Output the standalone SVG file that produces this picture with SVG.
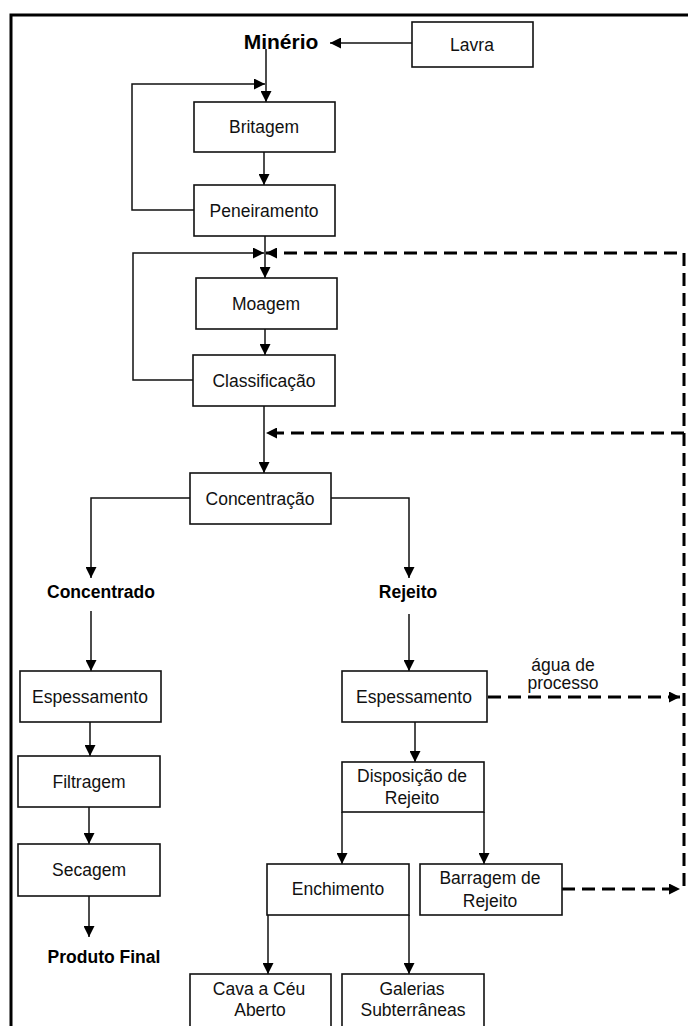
<svg xmlns="http://www.w3.org/2000/svg" width="688" height="1026" viewBox="0 0 688 1026">
<style>
.box{fill:#fff;stroke:#111;stroke-width:1.6}
.t{font-family:"Liberation Sans",Arial,sans-serif;font-size:17.5px;fill:#111;text-anchor:middle}
.b{font-family:"Liberation Sans",Arial,sans-serif;font-size:17.5px;font-weight:bold;fill:#000;text-anchor:middle}
.ln{fill:none;stroke:#111;stroke-width:1.5}
.ds{fill:none;stroke:#000;stroke-width:3;stroke-dasharray:13 7}
</style>
<defs>
<marker id="ah" markerUnits="userSpaceOnUse" markerWidth="11" markerHeight="11" refX="11" refY="5.5" orient="auto">
<path d="M0,0 L11,5.5 L0,11 z" fill="#000"/>
</marker>
</defs>
<rect x="0" y="0" width="688" height="1026" fill="#fff"/>
<g id="frame">
<path d="M11,1030 L11,15 L692,15" fill="none" stroke="#000" stroke-width="3"/>
</g>
<g id="connectors">
<path class="ln" d="M412,43 L330,43" marker-end="url(#ah)"/>
<path class="ln" d="M266,49 L266,102" marker-end="url(#ah)"/>
<path class="ln" d="M194,210 L132,210 L132,84 L265,84" marker-end="url(#ah)"/>
<path class="ln" d="M264,152 L264,185" marker-end="url(#ah)"/>
<path class="ln" d="M265,236 L265,278" marker-end="url(#ah)"/>
<path class="ln" d="M193,380 L133,380 L133,253 L264,253" marker-end="url(#ah)"/>
<path class="ln" d="M265,329 L265,355" marker-end="url(#ah)"/>
<path class="ln" d="M264,406 L264,473" marker-end="url(#ah)"/>
<path class="ln" d="M190,498 L91,498 L91,578" marker-end="url(#ah)"/>
<path class="ln" d="M331,498 L409,498 L409,578" marker-end="url(#ah)"/>
<path class="ln" d="M91,611 L91,671" marker-end="url(#ah)"/>
<path class="ln" d="M409,614 L409,671" marker-end="url(#ah)"/>
<path class="ln" d="M90,722 L90,756" marker-end="url(#ah)"/>
<path class="ln" d="M89,807 L89,844" marker-end="url(#ah)"/>
<path class="ln" d="M89,896 L89,937" marker-end="url(#ah)"/>
<path class="ln" d="M415,722 L415,762" marker-end="url(#ah)"/>
<path class="ln" d="M342,812 L342,864" marker-end="url(#ah)"/>
<path class="ln" d="M484,812 L484,864" marker-end="url(#ah)"/>
<path class="ln" d="M268,915 L268,974" marker-end="url(#ah)"/>
<path class="ln" d="M409,915 L409,974" marker-end="url(#ah)"/>
<path class="ds" d="M684,886 L684,253 L266,253" marker-end="url(#ah)"/>
<path class="ds" d="M684,433 L266,433" marker-end="url(#ah)"/>
<path class="ds" d="M488,697 L680,697" marker-end="url(#ah)"/>
<path class="ds" d="M562,889 L680,889" marker-end="url(#ah)"/>
</g>
<g id="minerio"><text class="b" x="281" y="49" style="font-size:21px">Minério</text></g>
<g id="lavra"><rect class="box" x="412" y="22" width="121" height="45"/><text class="t" x="472" y="51">Lavra</text></g>
<g id="britagem"><rect class="box" x="194" y="102" width="141" height="50"/><text class="t" x="264" y="133">Britagem</text></g>
<g id="peneiramento"><rect class="box" x="194" y="185" width="141" height="51"/><text class="t" x="264" y="217">Peneiramento</text></g>
<g id="moagem"><rect class="box" x="196" y="278" width="141" height="51"/><text class="t" x="266" y="310">Moagem</text></g>
<g id="classificacao"><rect class="box" x="193" y="355" width="142" height="51"/><text class="t" x="264" y="387">Classificação</text></g>
<g id="concentracao"><rect class="box" x="190" y="473" width="141" height="51"/><text class="t" x="260" y="505">Concentração</text></g>
<g id="concentrado"><text class="b" x="101" y="598">Concentrado</text></g>
<g id="rejeito"><text class="b" x="408" y="598">Rejeito</text></g>
<g id="espessamento1"><rect class="box" x="20" y="671" width="141" height="51"/><text class="t" x="90" y="703">Espessamento</text></g>
<g id="filtragem"><rect class="box" x="18" y="756" width="142" height="51"/><text class="t" x="89" y="788">Filtragem</text></g>
<g id="secagem"><rect class="box" x="18" y="844" width="142" height="52"/><text class="t" x="89" y="876">Secagem</text></g>
<g id="produto"><text class="b" x="104" y="963">Produto Final</text></g>
<g id="espessamento2"><rect class="box" x="342" y="671" width="145" height="51"/><text class="t" x="414" y="703">Espessamento</text></g>
<g id="agua"><text class="t" x="563" y="671">água de</text><text class="t" x="563" y="689">processo</text></g>
<g id="disposicao"><rect class="box" x="342" y="762" width="142" height="50"/><text class="t" x="412" y="782">Disposição de</text><text class="t" x="412" y="804">Rejeito</text></g>
<g id="enchimento"><rect class="box" x="267" y="864" width="142" height="51"/><text class="t" x="338" y="895">Enchimento</text></g>
<g id="barragem"><rect class="box" x="420" y="864" width="142" height="51"/><text class="t" x="490" y="884">Barragem de</text><text class="t" x="490" y="907">Rejeito</text></g>
<g id="cava"><rect class="box" x="190" y="974" width="141" height="60"/><text class="t" x="259" y="995">Cava a Céu</text><text class="t" x="260" y="1016">Aberto</text></g>
<g id="galerias"><rect class="box" x="342" y="974" width="142" height="60"/><text class="t" x="412" y="995">Galerias</text><text class="t" x="413" y="1016">Subterrâneas</text></g>
</svg>
